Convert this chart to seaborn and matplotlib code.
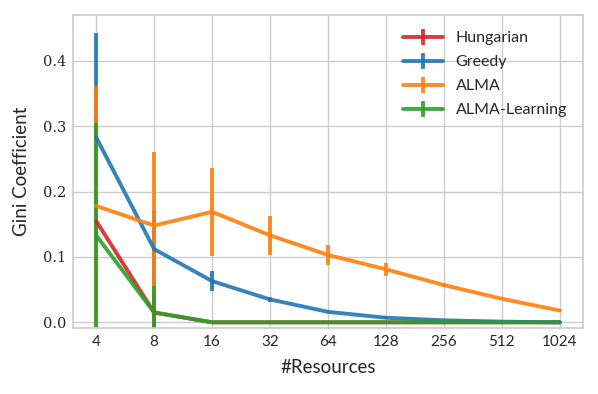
import numpy as np
import pandas as pd
import matplotlib
matplotlib.use("Agg")
import matplotlib.pyplot as plt
import seaborn as sns

# data
resources = [4, 8, 16, 32, 64, 128, 256, 512, 1024]
hungarian = [0.155, 0.015, 0.0, 0.0, 0.0, 0.0, 0.0, 0.0, 0.0]
hungarian_err = [0.15, 0.03, 0.0, 0.0, 0.0, 0.0, 0.0, 0.0, 0.0]
greedy = [0.283, 0.112, 0.063, 0.035, 0.016, 0.007, 0.003, 0.001, 0.0]
greedy_err = [0.16, 0.058, 0.015, 0.004, 0.002, 0.001, 0.0, 0.0, 0.0]
alma = [0.178, 0.148, 0.169, 0.133, 0.103, 0.081, 0.057, 0.036, 0.018]
alma_err = [0.184, 0.112, 0.067, 0.03, 0.015, 0.01, 0.003, 0.001, 0.001]
alma_learning = [0.133, 0.015, 0.0, 0.0, 0.0, 0.0, 0.0, 0.0, 0.0]
alma_learning_err = [0.172, 0.04, 0.0, 0.0, 0.0, 0.0, 0.0, 0.0, 0.0]

sns.set_theme(style="whitegrid")
plt.rcParams['font.family'] = ['Lato', 'DejaVu Sans']
plt.rcParams['axes.edgecolor'] = '.8'
plt.rcParams['grid.color'] = '.8'

pal = sns.color_palette("tab10")
series = [
    ("Hungarian", hungarian, hungarian_err, pal[3]),
    ("Greedy", greedy, greedy_err, pal[0]),
    ("ALMA", alma, alma_err, pal[1]),
    ("ALMA-Learning", alma_learning, alma_learning_err, pal[2]),
]

fig = plt.figure(figsize=(5.98, 3.94), dpi=100)
ax = fig.add_axes([0.122, 0.167, 0.853, 0.795])

for name, vals, errs, col in series:
    ax.errorbar(resources, vals, yerr=errs, label=name, color=col,
                lw=2.8, elinewidth=2.8, capsize=0, alpha=0.9)

ax.set_xscale('log', base=2)
ax.set_xticks(resources)
ax.set_xticklabels([str(r) for r in resources], fontsize=11)
ax.minorticks_off()
ax.set_xlim(2 ** 1.6, 2 ** 10.4)
ax.set_ylim(-0.009, 0.47)
ax.set_yticks([0.0, 0.1, 0.2, 0.3, 0.4])
ax.set_yticklabels(["0.0", "0.1", "0.2", "0.3", "0.4"], fontsize=10.5,
                   family="DejaVu Serif")
ax.tick_params(axis='both', which='major', pad=5, length=0)
ax.set_xlabel("#Resources", fontsize=13.5, labelpad=7)
ax.set_ylabel("Gini Coefficient", fontsize=13.5, labelpad=9)
for s in ax.spines.values():
    s.set_color('.8')
    s.set_linewidth(1.2)

ax.legend(loc='upper right', frameon=False, fontsize=11.5, handlelength=2.5,
          borderaxespad=0.6, labelspacing=0.62)

fig.savefig("out.png", dpi=100)
